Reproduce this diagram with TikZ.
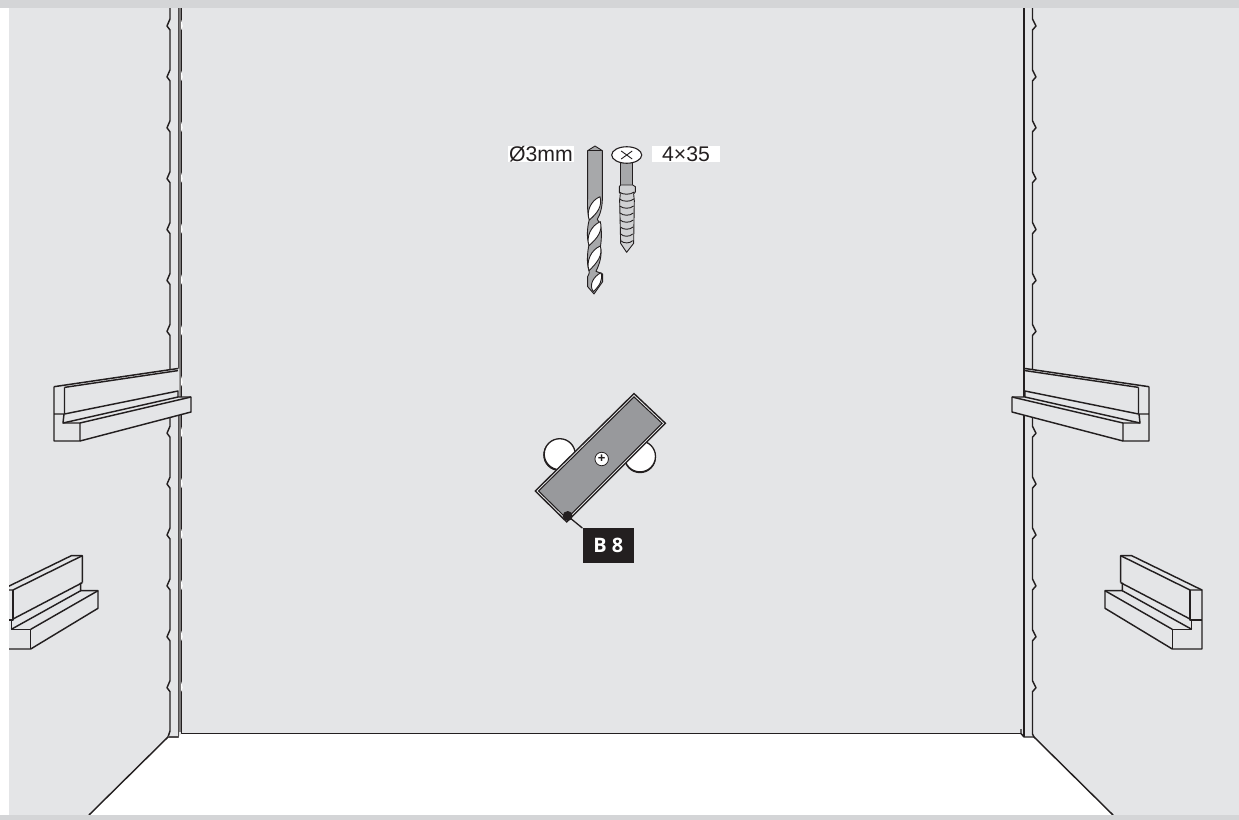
\documentclass[tikz,border=0pt]{standalone}
\usetikzlibrary{shapes.geometric}
\usepackage{fontspec}
\setmainfont{Liberation Sans}
\newfontfamily\boldlabel{Open Sans}
\definecolor{wallgray}{HTML}{E4E5E7}
\definecolor{stripgray}{HTML}{D4D5D7}
\definecolor{ink}{HTML}{231F20}
\definecolor{steel}{HTML}{98999C}
\definecolor{bitgray}{HTML}{A7A8AA}
\definecolor{threadgray}{HTML}{D0D1D3}
\tikzset{
  x=1bp,y=-1bp,
  outline/.style={draw=ink,line width=1.45bp,line join=round},
  thin outline/.style={draw=ink,line width=.9bp,line join=round},
  dim label/.style={fill=white,text=ink,inner sep=0pt,font=\fontsize{21.3}{21.3}\selectfont,minimum height=15.7bp},
  washer/.style={circle,fill=white,draw=ink,line width=1.3bp,inner sep=0pt,minimum size=31bp},
  washer shadow/.style={circle,fill=ink,inner sep=0pt,minimum size=32bp},
}
\newcommand{\uppershelf}{%
  \fill[wallgray] (54,387)--(179.4,368.5)--(179.4,397)--(191,397)--(191,412)--(80,441)--(54,441)--cycle;
  \draw[outline,line width=1.5bp] (54,386.7)--(178,368.5);
  \draw[outline] (64.5,387.4)--(178,370.6);
  \draw[outline] (54,386.7)--(54,441)--(80,441)--(80,423)--(63,423)--(64,414)--(54,414);
  \draw[outline] (64.5,387.4)--(64.5,414)--(178,391)--(178,397)--(191,397)--(191,412)--(80,441);
  \draw[outline] (63,423)--(178,397);
  \draw[outline] (80,423)--(191,397);
}
\newcommand{\lowershelf}{%
  \fill[wallgray] (1120.7,555.7)--(1131.7,555.7)--(1202,590)--(1202,649)--(1172.3,649)--(1105,608.3)--(1105,590.7)--(1120.7,582.7)--cycle;
  \draw[outline] (1120.7,582.7)--(1120.7,555.7)--(1131.7,555.7)--(1202,590)--(1202,649)--(1172.3,649)--(1105,608.3)--(1105,590.7)--(1122.3,590.7)--(1122.3,582.7);
  \draw[outline] (1120.7,555.7)--(1190,590)--(1202,590);
  \draw[outline] (1190,590)--(1190,620)--(1202,620);
  \draw[outline] (1120.7,582.7)--(1190,619);
  \draw[outline] (1191.7,620)--(1191.7,629.3)--(1172.3,629.3)--(1172.3,649);
  \draw[outline] (1105,590.7)--(1172.3,629.3);
  \draw[outline] (1122.3,590.7)--(1191.7,629.3);
}
\begin{document}
\begin{tikzpicture}
\useasboundingbox (0,0) rectangle (1239,820);
% wall and floor
\fill[wallgray] (0,0) rectangle (1239,820);
\fill[white] (89,815)--(168,737)--(179,737)--(181,734)--(1021,734)--(1024,737)--(1034,737)--(1113,815)--cycle;
% left corner
\draw[outline] (170,8) foreach \k in {0,...,13} { -- (170,{26+50.9*\k-7}) -- (167,{26+50.9*\k}) -- (170,{26+50.9*\k+4}) } -- (170,731) -- (168,737) -- (89,815);
\draw[outline,draw=ink!80] (168,737)--(178.5,737)--(178.5,8);
\draw[draw=ink!60,line width=1.2bp] (180,8)--(180,732);
\draw[outline] (181.7,8)--(181.7,733.5)--(1021,733.5);
\foreach \k in {0,...,13} \fill[white] (181.2,{26+50.9*\k-6}) -- (182.8,{26+50.9*\k}) -- (181.2,{26+50.9*\k+4}) -- cycle;
% right corner
\draw[outline] (1021,729)--(1021,733.5)--(1024,737)--(1034,737)--(1113,815);
\draw[outline] (1024.2,8)--(1024.2,737);
\draw[outline] (1032.5,8) foreach \k in {0,...,13} { -- (1032.5,{26+50.9*\k-7}) -- (1036,{26+50.9*\k}) -- (1032.5,{26+50.9*\k+4}) } -- (1032.5,734) -- (1034,737);
% shelves
\uppershelf
\begin{scope}[shift={(1203,0)},xscale=-1]\uppershelf\end{scope}
\draw[outline] (1024.2,360)--(1024.2,397);
\lowershelf
\begin{scope}[shift={(1203,0)},xscale=-1]\lowershelf\end{scope}
% page strips
\fill[white] (0,0) rectangle (9,820);
\fill[stripgray] (0,0) rectangle (1239,8);
\fill[stripgray] (0,814.5) rectangle (1239,820);
% labels
\node[dim label,minimum width=66bp] (dia) at (541,153.8) {Ø3mm};
\node[dim label,minimum width=68bp] (size) at (686,153.8) {4×35};
% drill bit
\begin{scope}[shift={(490,130)},x=.3333bp,y=-.3333bp]
\path[fill=bitgray,thin outline] (315,48)--(337,62)--(337,200) .. controls (338,230) and (330,255) .. (322,268) .. controls (332,280) and (338,300) .. (332,345) .. controls (330,360) and (325,375) .. (330,350) -- (333,360) .. controls (335,385) and (325,410) .. (318,424) -- (338,432)--(338,455)--(312,492)--(293,470)--(293,440) .. controls (298,430) and (300,425) .. (296,418) .. controls (290,400) and (292,365) .. (297,345) .. controls (290,325) and (291,295) .. (298,268) .. controls (292,250) and (292,220) .. (293,200)--(293,62)--cycle;
\draw[thin outline] (293,62)--(337,62);
\path[fill=white,thin outline] (330,200) .. controls (338,228) and (322,250) .. (298,270) .. controls (288,245) and (302,212) .. (330,200)--cycle;
\path[fill=white,thin outline] (331,275) .. controls (339,303) and (322,325) .. (297,347) .. controls (288,320) and (303,287) .. (331,275)--cycle;
\path[fill=white,thin outline] (331,348) .. controls (339,376) and (322,398) .. (297,422) .. controls (288,393) and (303,360) .. (331,348)--cycle;
\path[fill=white,thin outline] (333,428) .. controls (340,450) and (328,468) .. (310,485) .. controls (296,465) and (310,440) .. (333,428)--cycle;
\end{scope}
% screw
\begin{scope}[shift={(490,130)},x=.3333bp,y=-.3333bp]
\path[fill=bitgray,thin outline] (392,95) rectangle (428,165);
\path[fill=threadgray,thin outline] (392,165)--(428,165)--(436,170)--(436,186)--(431,192)--(433,212)--(431,340)--(410,367)--(392,340)--(389,212)--(391,192)--(388,186)--(388,170)--cycle;
\foreach \yy/\w in {186/23,207/22,228/21,249/20,270/20,291/19,312/18,332/18} \draw[thin outline] (410-\w,\yy) .. controls (400,\yy+9) and (420,\yy+9) .. (410+\w,\yy);
\end{scope}
\node[draw=ink,fill=white,ellipse,line width=1.1bp,inner sep=0pt,minimum width=30bp,minimum height=16.5bp] (head) at (626.7,155) {};
\draw[thin outline] ([shift={(-5.5,-4)}]head.center)--([shift={(5.5,4)}]head.center) ([shift={(-5.5,4)}]head.center)--([shift={(5.5,-4)}]head.center);
% washers
\node[washer shadow] (wlshadow) at (559.2,455) {};
\node[washer] (wl) at (559.7,454.2) {};
\node[washer shadow] (wrshadow) at (640,457.2) {};
\node[washer] (wr) at (640,456.4) {};
% plate
\path[fill=steel,draw=ink,line width=1.3bp,line join=miter] (634,393.5)--(665.5,423.3)--(566.7,522)--(535.2,491)--cycle;
\draw[white,line width=.6bp] (634,395.6)--(663.4,423.3)--(566.7,519.9)--(537.3,491)--cycle;
\draw[ink,line width=1bp] (634,396.9)--(662.1,423.3)--(566.7,518.6)--(538.6,491)--cycle;
\node[circle,fill=white,draw=ink,line width=.8bp,inner sep=0pt,minimum size=13.5bp,font=\bfseries\fontsize{13}{13}\selectfont,text=ink] (screwhead) at (601.7,459) {+};
% callout
\node[circle,fill=ink,inner sep=0pt,minimum size=10bp] (dot) at (567.7,516) {};
\node[fill=ink,text=white,inner sep=0pt,minimum width=51.3bp,minimum height=34.4bp,font=\boldlabel\bfseries\fontsize{20}{20}\selectfont] (tag) at (608.3,545.5) {B 8};
\draw[ink,line width=1.3bp] (dot.center)--(tag.north west);
\end{tikzpicture}
\end{document}
